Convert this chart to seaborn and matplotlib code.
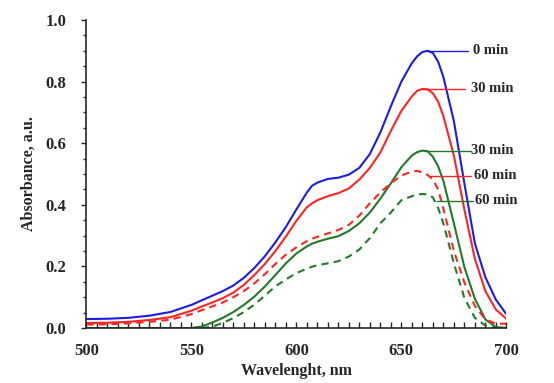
import numpy as np
import pandas as pd
import matplotlib
matplotlib.use('Agg')
import matplotlib.pyplot as plt
import seaborn as sns
from matplotlib.ticker import MultipleLocator, FormatStrFormatter

# Dados
wavelength = [500, 510, 520, 530, 540, 550, 555, 560, 565, 570, 575, 580, 585, 590, 595,
              600, 605, 607.5, 610, 615, 620, 625, 630, 635, 640, 645, 650, 655, 657.5,
              660, 662.5, 665, 667.5, 670, 675, 680, 685, 690, 695, 700]

blue_0 = [.029, .030, .033, .040, .052, .075, .090, .105, .120, .138, .163, .195, .233, .278, .328,
          .385, .440, .462, .472, .484, .488, .498, .520, .565, .635, .720, .800, .860, .882,
          .896, .900, .893, .865, .815, .672, .470, .275, .165, .092, .045]
red_30 = [.016, .017, .020, .026, .035, .056, .070, .083, .097, .115, .140, .172, .208, .250, .297,
          .348, .392, .405, .415, .428, .438, .453, .482, .520, .570, .640, .705, .752, .770,
          .776, .775, .762, .735, .688, .560, .385, .225, .120, .060, .030]
red_60 = [.011, .012, .015, .020, .027, .045, .058, .070, .083, .100, .120, .145, .175, .208, .238,
          .262, .282, .290, .296, .307, .318, .335, .365, .405, .440, .470, .495, .508, .510,
          .505, .497, .483, .450, .388, .250, .148, .072, .028, .014, .014]
green_30 = [0, 0, 0, 0, 0, 0, .005, .018, .033, .052, .075, .102, .135, .172, .210,
            .242, .265, .274, .280, .290, .298, .315, .340, .375, .420, .470, .522, .560, .571,
            .576, .574, .556, .525, .478, .340, .198, .095, .028, .003, 0]
green_60 = [np.nan, np.nan, np.nan, np.nan, np.nan, np.nan, 0, .004, .017, .032, .052, .076, .105, .135, .158,
            .178, .193, .199, .204, .210, .217, .232, .255, .292, .340, .375, .415, .428, .433,
            .435, .434, .424, .390, .340, .210, .098, .033, .008, 0, 0]

series = [
    # (valores, cor, tracejado, rótulo, x do início da linha, y do rótulo)
    (blue_0, '#1c1ce6', False, '0 min', 662, 0.900),
    (red_30, '#ff2424', False, '30 min', 660, 0.776),
    (green_30, '#23792a', False, '30 min', 661, 0.575),
    (red_60, '#ff2424', True, '60 min', 664, 0.494),
    (green_60, '#23792a', True, '60 min', 667, 0.413),
]
label_line_end = [681.5, 680.5, 683, 683, 684]
label_text_x = [684, 683, 683, 684.5, 685]

sns.set_style('ticks')
plt.rcParams['font.family'] = ['Liberation Serif', 'DejaVu Serif']
plt.rcParams['font.weight'] = 'bold'

fig = plt.figure(figsize=(5.54, 3.83), dpi=100)
ax = fig.add_axes([0.156, 0.1436, 0.758, 0.8042])

for i, (vals, cor, tracejado, rotulo, x0, y0) in enumerate(series):
    df = pd.DataFrame({'wl': wavelength, 'abs': vals})
    sns.lineplot(data=df, x='wl', y='abs', ax=ax, color=cor, linewidth=1.5,
                 linestyle='--' if tracejado else '-')
    if tracejado:
        ax.lines[-1].set_dashes((3.5, 2.5))
    ax.plot([x0, label_line_end[i]], [y0, y0], color=cor, linewidth=1.0)
    ax.text(label_text_x[i], y0, rotulo, fontsize=10.5, fontweight='bold',
            va='center', ha='left')

ax.set_xlim(500, 700)
ax.set_ylim(0, 1.0)
ax.xaxis.set_major_locator(MultipleLocator(50))
ax.xaxis.set_minor_locator(MultipleLocator(5))
ax.yaxis.set_major_locator(MultipleLocator(0.2))
ax.yaxis.set_minor_locator(MultipleLocator(0.05))
ax.yaxis.set_major_formatter(FormatStrFormatter('%.1f'))
ax.tick_params(axis='x', which='both', direction='in', length=4, width=1, labelsize=12, pad=11)
ax.tick_params(axis='y', which='major', direction='out', length=3.5, width=1, labelsize=12, pad=11)
ax.tick_params(axis='y', which='minor', direction='out', length=2.5, width=1)
for lab in ax.get_xticklabels() + ax.get_yticklabels():
    lab.set_fontweight('bold')
sns.despine(ax=ax)
ax.spines['left'].set_linewidth(1.2)
ax.spines['bottom'].set_linewidth(1.2)

ax.set_xlabel('Wavelenght, nm', fontsize=11.5, fontweight='bold', labelpad=3)
ax.set_ylabel('Absorbance, a.u.', fontsize=11.5, fontweight='bold', labelpad=6)

plt.savefig('out.png', dpi=100)
